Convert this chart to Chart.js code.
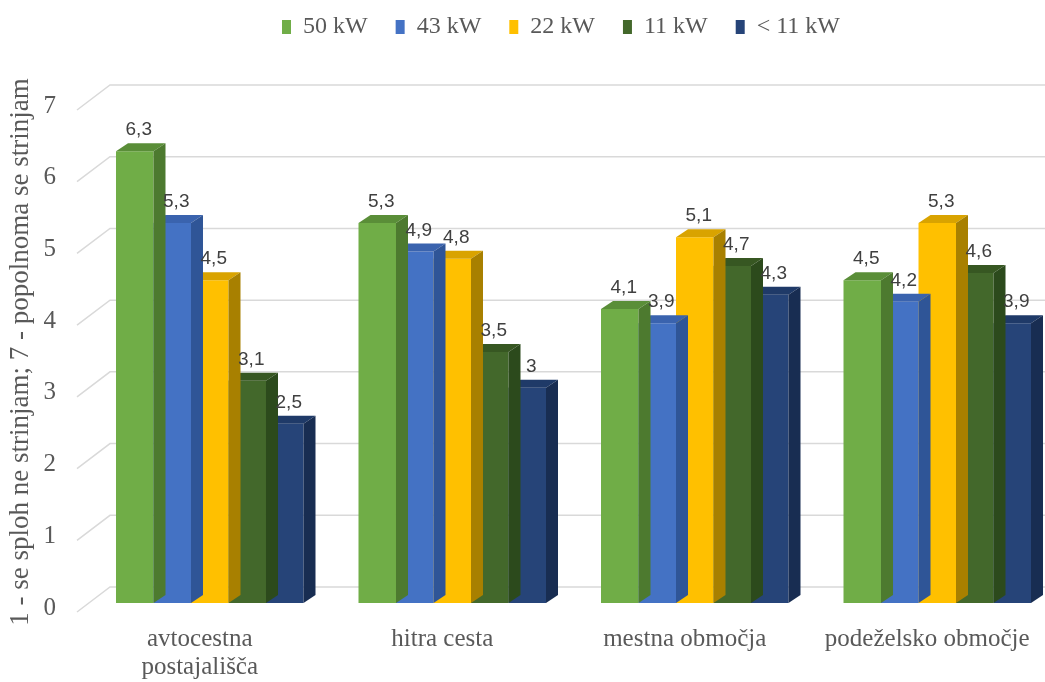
<!DOCTYPE html>
<html>
<head>
<meta charset="utf-8">
<script src="https://cdn.jsdelivr.net/npm/chart.js@4/dist/chart.umd.min.js"></script>
<style>
  html, body { margin: 0; padding: 0; background: #ffffff; }
  #wrap { width: 1045px; height: 682px; }
</style>
</head>
<body>
<div id="wrap"><canvas id="chart" width="1045" height="682"></canvas></div>
<script>
// Categories (charging location) and one value array per charging power
const categories = [['avtocestna', 'postajališča'], 'hitra cesta', 'mestna območja', 'podeželsko območje'];
const seriesNames = ['50 kW', '43 kW', '22 kW', '11 kW', '< 11 kW'];
const kw50 = [6.3, 5.3, 4.1, 4.5];
const kw43 = [5.3, 4.9, 3.9, 4.2];
const kw22 = [4.5, 4.8, 5.1, 5.3];
const kw11 = [3.1, 3.5, 4.7, 4.6];
const kwUnder11 = [2.5, 3.0, 4.3, 3.9];
const yTicks = [0, 1, 2, 3, 4, 5, 6, 7];
const yTitle = '1 - se sploh ne strinjam; 7 - popolnoma se strinjam';

// Face colours of the 3D columns: front, top, side
const frontColors = ['#70AD47', '#4472C4', '#FFC000', '#43682B', '#264478'];
const topColors   = ['#5A8E38', '#3A63AE', '#D9A300', '#375722', '#1F3A68'];
const sideColors  = ['#4D7A2F', '#2F5597', '#A88000', '#2C4A1C', '#182D52'];

const seriesValues = [kw50, kw43, kw22, kw11, kwUnder11];

// Oblique projection offsets
const BAR_DX = 12, BAR_DY = -8;      // depth of a column
const WALL_DX = 33, WALL_DY = -16;   // back wall relative to the column fronts
const FLOOR_DY = 9;                  // front edge of the floor
const LEGEND_GAP = 52;               // empty band between legend and plot

const SERIF = "'Liberation Serif', 'Times New Roman', serif";
const SANS = "'Liberation Sans', Arial, sans-serif";
const TEXT = '#595959';

const datasets = seriesNames.map((name, s) => ({
  label: name,
  data: seriesValues[s].map((v, i) => ({ x: i, y: v })),
  backgroundColor: frontColors[s],
  borderWidth: 0,
  categoryPercentage: 0.7732,
  barPercentage: 1.0
}));

const fmt = v => String(v).replace('.', ',');

// Leaves room below the legend row
const legendGap = {
  id: 'legendGap',
  beforeInit(chart) {
    const lg = chart.legend;
    if (!lg) return;
    const fit = lg.fit;
    lg.fit = function () {
      fit.call(this);
      this.height += LEGEND_GAP;
    };
  }
};

const threeD = {
  id: 'threeD',
  beforeDatasetsDraw(chart) {
    const { ctx, chartArea, scales } = chart;
    const y = scales.y;
    ctx.save();
    ctx.strokeStyle = '#D9D9D9';
    ctx.lineWidth = 1.5;
    yTicks.forEach(t => {
      const py = y.getPixelForValue(t);
      ctx.beginPath();
      ctx.moveTo(chartArea.left, py + FLOOR_DY);
      ctx.lineTo(chartArea.left + WALL_DX, py + WALL_DY);
      ctx.lineTo(chart.width, py + WALL_DY);
      ctx.stroke();
    });
    ctx.restore();
  },
  afterDatasetDraw(chart, args) {
    const { ctx } = chart;
    const s = args.index;
    const meta = args.meta;
    ctx.save();
    meta.data.forEach(bar => {
      const p = bar.getProps(['x', 'y', 'base', 'width'], true);
      const l = p.x - p.width / 2, r = p.x + p.width / 2;
      // top face
      ctx.fillStyle = topColors[s];
      ctx.beginPath();
      ctx.moveTo(l, p.y);
      ctx.lineTo(l + BAR_DX, p.y + BAR_DY);
      ctx.lineTo(r + BAR_DX, p.y + BAR_DY);
      ctx.lineTo(r, p.y);
      ctx.closePath();
      ctx.fill();
      // side face
      ctx.fillStyle = sideColors[s];
      ctx.beginPath();
      ctx.moveTo(r, p.y);
      ctx.lineTo(r + BAR_DX, p.y + BAR_DY);
      ctx.lineTo(r + BAR_DX, p.base + BAR_DY);
      ctx.lineTo(r, p.base);
      ctx.closePath();
      ctx.fill();
    });
    ctx.restore();
  },
  afterDatasetsDraw(chart) {
    const { ctx } = chart;
    ctx.save();
    ctx.font = '19px ' + SANS;
    ctx.fillStyle = '#404040';
    ctx.textAlign = 'center';
    ctx.textBaseline = 'alphabetic';
    chart.data.datasets.forEach((ds, s) => {
      const meta = chart.getDatasetMeta(s);
      meta.data.forEach((bar, i) => {
        const p = bar.getProps(['x', 'y'], true);
        ctx.fillText(fmt(ds.data[i].y), p.x + 4, p.y - 16);
      });
    });
    ctx.restore();
  }
};

Chart.defaults.font.family = SERIF;
Chart.defaults.color = TEXT;

new Chart(document.getElementById('chart'), {
  type: 'bar',
  data: { datasets },
  options: {
    responsive: false,
    animation: false,
    layout: { padding: { top: -13, right: 0, bottom: 0, left: 0 } },
    plugins: {
      legend: {
        position: 'top',
        fullSize: false,
        labels: {
          font: { family: SERIF, size: 24 },
          color: TEXT,
          boxWidth: 9,
          boxHeight: 14,
          padding: 28
        }
      },
      tooltip: { enabled: false }
    },
    scales: {
      x: {
        type: 'linear',
        min: -0.5474,
        max: 3.4443,
        offset: false,
        grid: { display: false, drawTicks: false },
        border: { display: false },
        afterBuildTicks: s => { s.ticks = categories.map((_, i) => ({ value: i })); },
        afterFit: s => { s.height = 79; s.paddingLeft = 0; s.paddingRight = 0; },
        ticks: {
          autoSkip: false,
          maxRotation: 0,
          labelOffset: -10,
          padding: 22,
          font: { family: SERIF, size: 25, lineHeight: 1.12 },
          color: TEXT,
          callback: v => categories[v]
        }
      },
      y: {
        min: 0,
        max: 7,
        grid: { display: false, drawTicks: false },
        border: { display: false },
        afterBuildTicks: s => { s.ticks = yTicks.map(v => ({ value: v })); },
        afterFit: s => { s.width = 77; },
        ticks: {
          padding: 21,
          labelOffset: 5,
          font: { family: SERIF, size: 25 },
          color: TEXT
        },
        title: {
          display: true,
          text: yTitle,
          font: { family: SERIF, size: 27 },
          color: TEXT,
          padding: { top: 5, bottom: 0 }
        }
      }
    }
  },
  plugins: [legendGap, threeD]
});
</script>
</body>
</html>
